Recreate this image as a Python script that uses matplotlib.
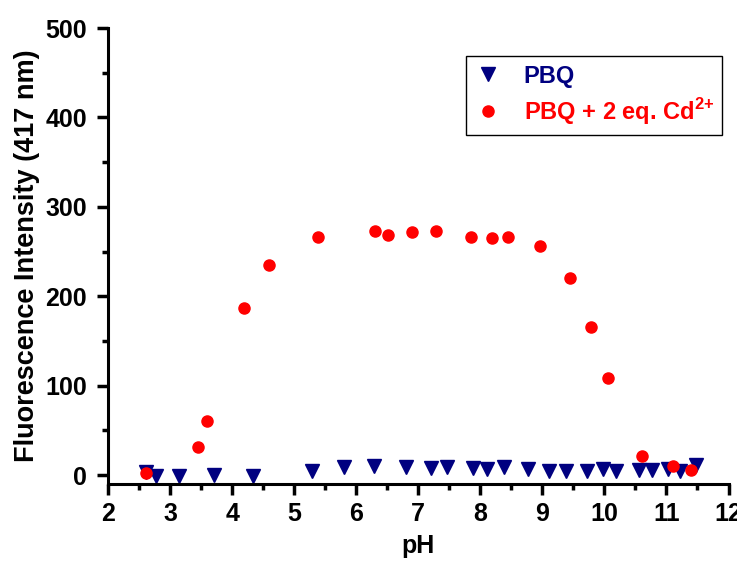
import numpy as np
import matplotlib.pyplot as plt
from matplotlib.ticker import MultipleLocator

plt.rcParams['font.family'] = ['Liberation Sans', 'DejaVu Sans']
plt.rcParams['font.weight'] = 'bold'
plt.rcParams['mathtext.fontset'] = 'custom'
plt.rcParams['mathtext.rm'] = 'Liberation Sans:bold'
plt.rcParams['mathtext.bf'] = 'Liberation Sans:bold'

# PBQ alone
ph_pbq = [2.61, 2.78, 3.15, 3.71, 4.34, 5.28, 5.80, 6.28, 6.81, 7.21, 7.46, 7.88, 8.11,
          8.38, 8.77, 9.11, 9.38, 9.72, 9.98, 10.18, 10.56, 10.77, 11.03, 11.22, 11.48]
fl_pbq = [3, -1, -1, 0, -1, 5, 9, 10, 9, 8, 9, 8, 7,
          9, 7, 4, 5, 4, 7, 5, 6, 6, 7, 5, 11]

# PBQ + 2 eq. Cd2+
ph_cd = [2.61, 3.45, 3.60, 4.20, 4.60, 5.38, 6.30, 6.52, 6.90, 7.28, 7.85, 8.19, 8.45,
         8.96, 9.45, 9.79, 10.06, 10.61, 11.10, 11.40]
fl_cd = [2, 31, 61, 187, 235, 266, 273, 269, 272, 273, 266, 265, 266,
         256, 220, 166, 109, 21, 10, 6]

fig = plt.figure(figsize=(7.37, 5.62), dpi=100)
ax = fig.add_axes([0.1465, 0.1388, 0.842, 0.8112])

ax.plot(ph_pbq, fl_pbq, 'v', color='#000080', markersize=9.5, label='PBQ')
ax.plot(ph_cd, fl_cd, 'o', color='#ff0000', markersize=8, label='PBQ + 2 eq. Cd$^{\\mathbf{2{+}}}$')

ax.set_xlim(2, 12)
ax.set_ylim(-10, 500)
ax.xaxis.set_major_locator(MultipleLocator(1))
ax.xaxis.set_minor_locator(MultipleLocator(0.5))
ax.yaxis.set_major_locator(MultipleLocator(100))
ax.yaxis.set_minor_locator(MultipleLocator(50))

for s in ['top', 'right']:
    ax.spines[s].set_visible(False)
for s in ['left', 'bottom']:
    ax.spines[s].set_linewidth(2.2)

ax.tick_params(which='major', direction='out', length=8, width=2.5, labelsize=18)
ax.tick_params(axis='y', which='major', pad=7)
ax.tick_params(axis='x', which='major', pad=5)
ax.tick_params(which='minor', direction='out', length=4, width=2.5)

ax.set_xlabel('pH', fontsize=18, fontweight='bold', labelpad=6)
ax.set_ylabel('Fluorescence Intensity (417 nm)', fontsize=19.5, fontweight='bold', labelpad=4)

leg = ax.legend(loc='upper right', bbox_to_anchor=(0.99, 0.938), borderaxespad=0,
                fancybox=False, edgecolor='black', framealpha=1, handlelength=1.2,
                handletextpad=0.9, borderpad=0.35, labelspacing=0.35,
                prop={'weight': 'bold', 'size': 17})
leg.get_frame().set_linewidth(1)
for t, c in zip(leg.get_texts(), ['#000080', '#ff0000']):
    t.set_color(c)

plt.savefig('out.png', dpi=100)
